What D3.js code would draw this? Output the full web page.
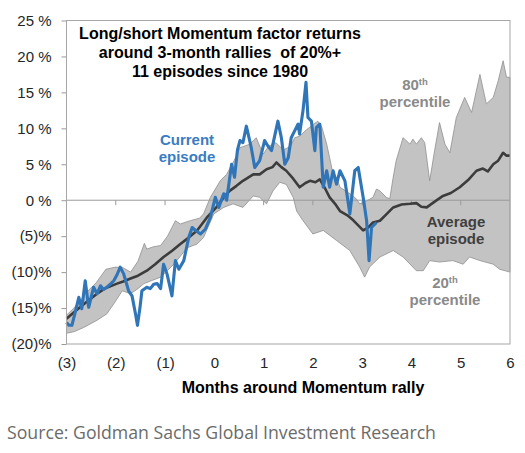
<!DOCTYPE html>
<html>
<head>
<meta charset="utf-8">
<script src="https://cdn.jsdelivr.net/npm/d3@7"></script>
<style>
  body { margin: 0; background: #fff; }
  svg { display: block; }
  text { font-family: "Liberation Sans", Arial, sans-serif; }
</style>
</head>
<body>
<div id="chart"></div>
<script>
// tick values
const yTicks = [-20, -15, -10, -5, 0, 5, 10, 15, 20, 25]
const xTicks = [-3, -2, -1, 0, 1, 2, 3, 4, 5, 6]

// [month, return %]
const pct80 = [[-3.0,-16.0],[-2.85,-15.0],[-2.7,-13.8],[-2.55,-12.5],[-2.4,-11.5],[-2.2,-9.6],[-2.0,-9.3],
  [-1.85,-9.4],[-1.7,-10.0],[-1.55,-8.5],[-1.42,-6.0],[-1.37,-6.8],[-1.25,-6.5],[-1.09,-6.3],[-0.95,-5.0],
  [-0.79,-2.85],[-0.69,-3.3],[-0.49,-2.85],[-0.3,-2.5],[-0.22,-1.9],[-0.08,0.4],[0.12,2.7],[0.25,3.6],
  [0.4,5.5],[0.52,7.3],[0.72,7.8],[0.85,8.7],[0.99,6.4],[1.1,7.5],[1.25,8.0],[1.4,7.0],[1.55,7.5],
  [1.63,8.7],[1.73,8.9],[1.87,9.8],[2.0,10.5],[2.1,11.0],[2.18,10.2],[2.28,7.8],[2.34,5.9],[2.41,3.6],
  [2.48,3.2],[2.55,1.8],[2.75,0.9],[2.88,0.2],[2.95,-0.5],[3.09,-0.1],[3.22,0.4],[3.29,1.55],[3.36,1.3],
  [3.49,0.4],[3.56,0.2],[3.63,3.2],[3.69,5.5],[3.83,8.7],[3.97,7.8],[4.03,8.5],[4.10,7.8],[4.20,8.7],
  [4.27,8.0],[4.37,2.7],[4.47,6.9],[4.57,10.8],[4.68,7.8],[4.78,6.6],[4.91,11.5],[5.08,14.3],[5.22,12.2],
  [5.39,17.5],[5.52,13.4],[5.66,14.3],[5.76,16.6],[5.86,19.4],[5.93,17.1],[6.0,17.1]]

const pct20 = [[-3.0,-18.5],[-2.85,-18.3],[-2.65,-17.7],[-2.38,-16.7],[-2.18,-15.8],[-2.0,-14.0],
  [-1.87,-12.6],[-1.70,-13.0],[-1.55,-12.3],[-1.43,-11.6],[-1.09,-10.7],[-0.82,-8.9],[-0.55,-6.6],
  [-0.35,-6.1],[-0.22,-5.2],[-0.01,-1.9],[0.19,-1.0],[0.38,-0.5],[0.58,-1.0],[0.79,0.6],[0.92,0.4],
  [1.06,-0.5],[1.19,1.3],[1.33,2.5],[1.46,2.2],[1.60,0.4],[1.67,-1.5],[1.80,-2.85],[2.0,-4.7],[2.21,-4.2],
  [2.48,-5.6],[2.75,-7.0],[2.95,-9.3],[3.05,-10.7],[3.15,-9.3],[3.36,-7.9],[3.63,-7.0],[3.83,-7.9],
  [4.10,-9.8],[4.24,-9.8],[4.37,-8.4],[4.57,-8.6],[4.84,-8.4],[5.05,-8.9],[5.18,-7.9],[5.39,-8.4],
  [5.66,-8.9],[5.79,-9.6],[6.0,-10.0]]

const avgEpisode = [[-3.0,-16.5],[-2.8,-15.3],[-2.6,-14.2],[-2.38,-13.0],[-2.2,-12.2],[-1.975,-11.6],
  [-1.85,-11.3],[-1.70,-10.9],[-1.55,-10.5],[-1.37,-9.8],[-1.2,-8.9],[-1.03,-7.9],[-0.85,-7.0],[-0.69,-6.1],
  [-0.52,-5.2],[-0.35,-4.2],[-0.15,-2.4],[0.04,-1.0],[0.2,0.5],[0.31,1.3],[0.45,2.0],[0.58,2.7],[0.79,3.6],
  [0.92,3.6],[1.06,4.3],[1.18,4.6],[1.26,5.25],[1.36,4.6],[1.46,4.1],[1.6,3.0],[1.73,1.8],[1.85,2.4],
  [1.94,2.7],[2.05,2.5],[2.14,2.9],[2.25,1.6],[2.34,0.4],[2.45,-0.5],[2.55,-1.5],[2.7,-2.1],[2.82,-2.8],
  [2.92,-3.5],[3.02,-4.2],[3.12,-3.8],[3.22,-3.1],[3.36,-2.85],[3.5,-1.9],[3.63,-1.0],[3.8,-0.6],
  [3.97,-0.5],[4.1,-0.4],[4.2,-0.9],[4.31,-1.0],[4.45,-0.3],[4.64,0.6],[4.8,1.0],[4.98,1.8],[5.15,2.8],
  [5.32,4.1],[5.45,4.4],[5.55,4.0],[5.66,5.0],[5.76,5.5],[5.86,6.6],[5.93,6.2],[6.0,6.2]]

const currentEpisode = [[-3.0,-17.0],[-2.95,-17.4],[-2.89,-17.4],[-2.82,-15.5],[-2.75,-13.5],[-2.69,-15.1],
  [-2.62,-11.2],[-2.55,-14.9],[-2.50,-13.5],[-2.45,-12.1],[-2.38,-13.0],[-2.31,-11.9],[-2.25,-12.4],
  [-2.18,-12.1],[-2.1,-11.6],[-2.04,-11.2],[-1.97,-10.3],[-1.91,-9.3],[-1.84,-10.25],[-1.74,-12.6],
  [-1.67,-13.3],[-1.60,-15.8],[-1.56,-17.4],[-1.51,-15.0],[-1.47,-12.6],[-1.37,-12.1],[-1.30,-12.3],
  [-1.23,-11.7],[-1.16,-11.6],[-1.09,-12.3],[-1.03,-8.9],[-0.96,-10.25],[-0.86,-13.3],[-0.79,-8.4],
  [-0.72,-9.6],[-0.62,-8.4],[-0.52,-5.2],[-0.45,-3.8],[-0.38,-4.2],[-0.28,-4.7],[-0.18,-4.0],[-0.08,-2.4],
  [0.02,0.4],[0.09,-1.0],[0.19,0.9],[0.25,0.0],[0.30,2.5],[0.35,5.0],[0.41,3.2],[0.47,7.0],[0.52,8.3],
  [0.58,8.0],[0.65,10.3],[0.75,7.3],[0.82,4.55],[0.92,5.5],[1.02,8.3],[1.09,7.5],[1.16,6.9],[1.29,11.0],
  [1.36,8.7],[1.43,5.0],[1.50,5.9],[1.56,8.7],[1.63,9.65],[1.70,10.6],[1.73,9.2],[1.80,12.5],[1.86,16.4],
  [1.90,11.5],[1.97,11.0],[2.04,6.9],[2.07,10.1],[2.14,10.6],[2.21,1.8],[2.28,4.1],[2.34,1.8],[2.41,4.1],
  [2.48,2.25],[2.55,4.1],[2.65,2.7],[2.75,-1.9],[2.85,4.1],[2.92,4.55],[3.02,0.4],[3.09,-2.85],
  [3.14,-8.4],[3.19,-3.8],[3.29,-3.1]]

var margin = {top: 20.5, right: 15, bottom: 109, left: 66.5},
    width = 525 - margin.left - margin.right,
    height = 453 - margin.top - margin.bottom;

var svg = d3.select("#chart")
  .append("svg")
  .attr("width", 525)
  .attr("height", 453)

var chart = svg.append("g")
  .attr("transform", "translate(" + margin.left + "," + margin.top + ")")

var x = d3.scaleLinear().domain([-3, 6]).range([0, width])
var y = d3.scaleLinear().domain([-20, 25]).range([height, 0])

var line = d3.line().x(d => x(d[0])).y(d => y(d[1]))

// percentile band: 80th along the top, 20th back along the bottom
var bandPts = pct80.concat(pct20.slice().reverse())
chart.append("path")
  .attr("d", line(bandPts) + "Z")
  .attr("fill", "#c3c3c3")
  .attr("stroke", "#8f8f8f")
  .attr("stroke-width", 0.8)

// zero line with month ticks
chart.append("line")
  .attr("x1", 0).attr("x2", width)
  .attr("y1", y(0)).attr("y2", y(0))
  .attr("stroke", "#9a9a9a")
  .attr("stroke-width", 1)

chart.selectAll(".zt")
  .data(xTicks.slice(1, -1))
  .enter().append("line")
  .attr("x1", d => x(d)).attr("x2", d => x(d))
  .attr("y1", y(0)).attr("y2", y(0) + 5)
  .attr("stroke", "#9a9a9a")

chart.append("path")
  .datum(avgEpisode)
  .attr("d", line)
  .attr("fill", "none")
  .attr("stroke", "#3c3c3c")
  .attr("stroke-width", 2.6)
  .attr("stroke-linejoin", "round")

chart.append("path")
  .datum(currentEpisode)
  .attr("d", line)
  .attr("fill", "none")
  .attr("stroke", "#2f75b8")
  .attr("stroke-width", 3.1)
  .attr("stroke-linejoin", "round")

// axes
var yAxis = chart.append("g")
  .call(d3.axisLeft(y).tickValues(yTicks).tickSize(5).tickPadding(10)
    .tickFormat(d => d < 0 ? "(" + (-d) + ")%" : d + " %"))
yAxis.select(".domain").remove()
yAxis.selectAll("line").attr("stroke", "#9a9a9a")
yAxis.selectAll("text").style("font-size", "15px").attr("fill", "#262626")
  .style("font-family", '"Liberation Sans", Arial, sans-serif')

var xAxis = chart.append("g")
  .attr("transform", "translate(0," + height + ")")
  .call(d3.axisBottom(x).tickValues(xTicks).tickSize(0).tickPadding(13)
    .tickFormat(d => d < 0 ? "(" + (-d) + ")" : d))
xAxis.select(".domain").remove()
xAxis.selectAll("text").style("font-size", "15px").attr("fill", "#262626")
  .style("font-family", '"Liberation Sans", Arial, sans-serif')

// plot frame
chart.append("rect")
  .attr("width", width).attr("height", height)
  .attr("fill", "none")
  .attr("stroke", "#a6a6a6")
  .attr("stroke-width", 1)

// title
var title = svg.append("text")
  .attr("text-anchor", "middle")
  .style("font-size", "16px").style("font-weight", "bold")
  .style("white-space", "pre")
  .attr("fill", "#000")
const titleLines = ["Long/short Momentum factor returns", "around 3-month rallies  of 20%+", "11 episodes since 1980"]
title.selectAll("tspan").data(titleLines).enter().append("tspan")
  .attr("x", 220).attr("y", (d, i) => 38.5 + i * 19)
  .text(d => d)

// annotations
function label(lines, cx, y0, color) {
  var t = svg.append("text").attr("text-anchor", "middle")
    .style("font-size", "15px").style("font-weight", "bold").attr("fill", color)
  lines.forEach((l, i) => {
    t.append("tspan").attr("x", cx).attr("y", y0 + i * 17).text(l)
  })
  return t
}
label(["Current", "episode"], 187, 145, "#3a7cc2")
label(["Average", "episode"], 456, 227, "#3f3f3f")

function pctLabel(num, cx, y0) {
  var t = svg.append("text").attr("text-anchor", "middle")
    .style("font-weight", "bold").attr("fill", "#8a8a8a")
    .attr("x", cx).attr("y", y0)
  t.append("tspan").style("font-size", "15px").text(num)
  t.append("tspan").style("font-size", "9.5px").attr("dy", -5).text("th")
  svg.append("text").attr("text-anchor", "middle")
    .style("font-size", "15px").style("font-weight", "bold").attr("fill", "#8a8a8a")
    .attr("x", cx).attr("y", y0 + 16.5).text("percentile")
}
pctLabel("80", 415, 90)
pctLabel("20", 445, 288)

// axis title and source
svg.append("text")
  .attr("x", 303).attr("y", 393)
  .attr("text-anchor", "middle")
  .style("font-size", "16px").style("font-weight", "bold")
  .text("Months around Momentum rally")

svg.append("text")
  .attr("x", 7).attr("y", 439)
  .style("font-family", '"Open Sans", "Noto Sans", sans-serif')
  .style("font-size", "17.7px")
  .attr("fill", "#6b6b6b")
  .text("Source: Goldman Sachs Global Investment Research")
</script>
</body>
</html>
